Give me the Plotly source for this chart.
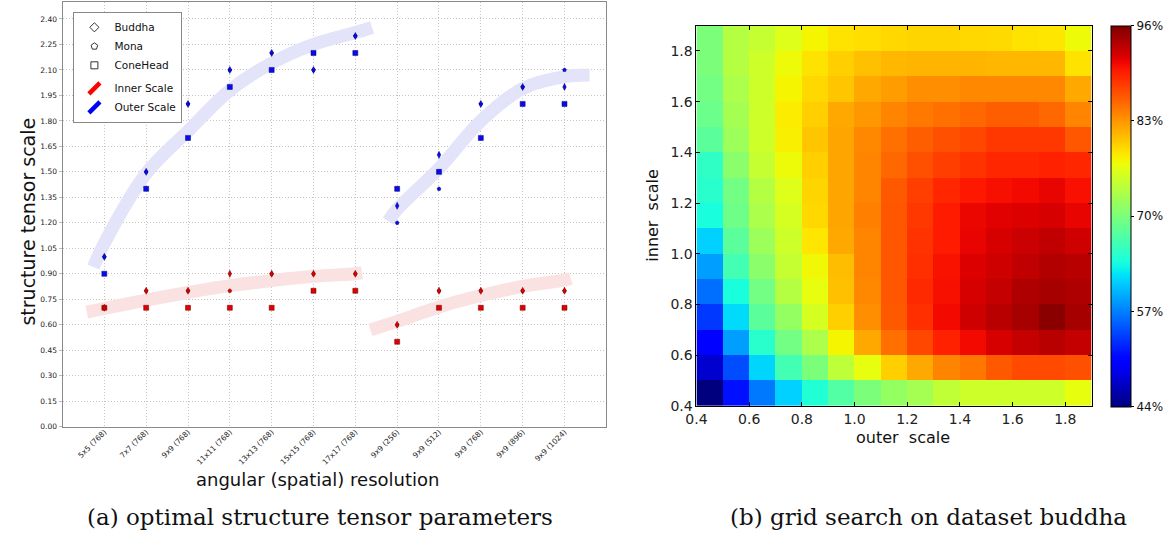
import numpy as np
import plotly.graph_objects as go

W, H = 1164, 549

# ---------------- data: panel (a) ----------------
categories = ["5x5 (768)", "7x7 (768)", "9x9 (768)", "11x11 (768)", "13x13 (768)",
              "15x15 (768)", "17x17 (768)", "9x9 (256)", "9x9 (512)", "9x9 (768)",
              "9x9 (896)", "9x9 (1024)"]
cat_pos = list(range(len(categories)))

buddha_outer = [1.0, 1.5, 1.9, 2.1, 2.2, 2.1, 2.3, 1.3, 1.6, 1.9, 2.0, 2.0]
mona_outer = [1.0, 1.5, 1.9, 2.1, 2.2, 2.1, 2.3, 1.2, 1.4, 1.9, 2.0, 2.1]
conehead_outer = [0.9, 1.4, 1.7, 2.0, 2.1, 2.2, 2.2, 1.4, 1.5, 1.7, 1.9, 1.9]

buddha_inner = [0.7, 0.8, 0.8, 0.9, 0.9, 0.9, 0.9, 0.6, 0.8, 0.8, 0.8, 0.8]
mona_inner = [0.7, 0.8, 0.8, 0.8, 0.9, 0.9, 0.9, 0.6, 0.8, 0.8, 0.8, 0.8]
conehead_inner = [0.7, 0.7, 0.7, 0.7, 0.7, 0.8, 0.8, 0.5, 0.7, 0.7, 0.7, 0.7]

# hand-drawn trend bands (position on category axis, scale value)
outer_band_a_pos = [-0.26, 0.0, 1.0, 2.0, 3.0, 4.0, 5.0, 6.0, 6.4]
outer_band_a_val = [0.94, 1.08, 1.49, 1.74, 1.98, 2.14, 2.25, 2.32, 2.35]
outer_band_b_pos = [6.79, 7.0, 8.0, 9.0, 10.0, 11.0, 11.6]
outer_band_b_val = [1.21, 1.28, 1.52, 1.80, 1.99, 2.06, 2.07]
inner_band_a_pos = [-0.42, 1.0, 2.0, 3.0, 4.0, 5.0, 6.0, 6.16]
inner_band_a_val = [0.675, 0.745, 0.79, 0.83, 0.86, 0.885, 0.90, 0.905]
inner_band_b_pos = [6.36, 7.0, 8.0, 9.0, 10.0, 11.0, 11.15]
inner_band_b_val = [0.57, 0.62, 0.705, 0.772, 0.826, 0.863, 0.873]

# ---------------- data: panel (b) ----------------
outer_scale = [0.45, 0.55, 0.65, 0.75, 0.85, 0.95, 1.05, 1.15, 1.25, 1.35, 1.45, 1.55, 1.65, 1.75, 1.85]
inner_scale = [0.45, 0.55, 0.65, 0.75, 0.85, 0.95, 1.05, 1.15, 1.25, 1.35, 1.45, 1.55, 1.65, 1.75, 1.85]
# accuracy in %, rows = inner scale (bottom to top), cols = outer scale
accuracy = [
    [44.0, 51.3, 56.7, 61.2, 64.3, 67.4, 70.0, 71.6, 72.6, 74.4, 75.2, 75.2, 75.2, 75.2, 76.8],
    [47.6, 54.4, 61.4, 66.4, 70.0, 74.2, 76.8, 79.9, 82.0, 84.0, 84.8, 86.4, 87.2, 87.2, 86.9],
    [50.2, 58.6, 64.8, 69.5, 73.1, 77.8, 82.0, 85.1, 87.4, 89.5, 90.8, 92.1, 92.9, 93.4, 92.9],
    [53.4, 61.7, 67.9, 71.6, 75.7, 79.9, 83.5, 86.4, 88.7, 90.8, 92.4, 93.4, 94.2, 95.5, 94.2],
    [56.2, 63.8, 69.5, 73.6, 76.8, 80.7, 83.8, 86.6, 89.0, 90.5, 92.1, 92.9, 93.9, 94.2, 93.9],
    [58.6, 66.4, 71.0, 74.7, 77.5, 80.9, 84.0, 86.6, 88.7, 90.3, 91.8, 92.4, 93.1, 93.7, 93.4],
    [61.2, 67.9, 72.1, 75.2, 78.6, 82.0, 84.0, 86.6, 88.5, 89.8, 91.3, 92.1, 92.6, 93.1, 92.4],
    [63.8, 69.2, 73.1, 75.7, 79.4, 82.2, 84.3, 86.6, 88.2, 89.8, 91.1, 91.6, 91.8, 92.1, 91.3],
    [64.8, 69.5, 73.6, 76.2, 79.6, 82.2, 84.0, 86.4, 87.9, 89.2, 90.0, 90.5, 90.8, 91.3, 90.4],
    [65.3, 71.0, 74.7, 77.3, 79.9, 82.2, 84.0, 85.6, 86.9, 87.9, 88.5, 89.2, 89.2, 89.5, 89.2],
    [67.9, 72.1, 75.2, 78.1, 80.4, 82.2, 83.8, 85.1, 86.1, 86.9, 87.4, 88.2, 88.2, 88.2, 86.6],
    [69.0, 72.6, 75.2, 78.3, 79.9, 82.0, 83.0, 84.0, 84.6, 85.1, 85.6, 86.1, 86.1, 85.6, 84.0],
    [69.5, 73.1, 75.2, 77.8, 79.4, 80.4, 82.0, 82.7, 83.5, 83.5, 83.8, 83.8, 83.8, 83.8, 82.0],
    [70.0, 73.6, 75.2, 77.3, 78.8, 79.9, 80.7, 81.2, 81.4, 81.4, 81.4, 81.2, 81.2, 81.2, 78.8],
    [70.0, 73.6, 74.7, 76.2, 77.8, 78.8, 79.1, 79.4, 79.6, 79.6, 79.4, 79.3, 78.8, 78.6, 77.3],
]
cbar_ticks = [44, 57, 70, 83, 96]
axis_ticks_b = [0.4, 0.6, 0.8, 1.0, 1.2, 1.4, 1.6, 1.8]


# ---------------- styling helpers ----------------
def px_x(p):
    return p / W


def px_y(p):
    return 1 - p / H


def jet_scale(n=61):
    out = []
    for t in np.linspace(0, 1, n):
        r = np.interp(t, [0, 0.35, 0.66, 0.89, 1], [0, 0, 1, 1, 0.5])
        g = np.interp(t, [0, 0.125, 0.375, 0.64, 0.91, 1], [0, 0, 1, 1, 0, 0])
        b = np.interp(t, [0, 0.11, 0.34, 0.65, 1], [0.5, 1, 1, 0, 0])
        out.append([float(t), f"rgb({int(r*255)},{int(g*255)},{int(b*255)})"])
    return out


FONT = "DejaVu Sans"
BLUE = "#0a0af0"
BLUE_EDGE = "#00006e"
RED = "#e00000"
RED_EDGE = "#6e0000"
BLUE_BAND = "#e3e3fa"
RED_BAND = "#fbe2e2"

fig = go.Figure()

# bands
for xs, ys, col in [(outer_band_a_pos, outer_band_a_val, BLUE_BAND),
                    (outer_band_b_pos, outer_band_b_val, BLUE_BAND),
                    (inner_band_a_pos, inner_band_a_val, RED_BAND),
                    (inner_band_b_pos, inner_band_b_val, RED_BAND)]:
    fig.add_trace(go.Scatter(x=xs, y=ys, mode="lines",
                             line=dict(color=col, width=13, shape="spline", smoothing=1.0),
                             showlegend=False, hoverinfo="skip", xaxis="x", yaxis="y"))

# markers
series = [
    (conehead_outer, "square", 5, BLUE, BLUE_EDGE),
    (conehead_inner, "square", 5, RED, RED_EDGE),
    (mona_outer, "pentagon", 4, BLUE, BLUE_EDGE),
    (mona_inner, "pentagon", 4, RED, RED_EDGE),
    (buddha_outer, "diamond-tall", 5, BLUE, BLUE_EDGE),
    (buddha_inner, "diamond-tall", 5, RED, RED_EDGE),
]
for vals, sym, size, col, edge in series:
    fig.add_trace(go.Scatter(x=cat_pos, y=vals, mode="markers",
                             marker=dict(symbol=sym, size=size, color=col,
                                         line=dict(color=edge, width=0.5)),
                             showlegend=False, xaxis="x", yaxis="y"))

# legend-only entries
for name, sym in [("Buddha", "diamond-open"), ("Mona", "pentagon-open"), ("ConeHead", "square-open")]:
    fig.add_trace(go.Scatter(x=[None], y=[None], mode="markers", name=name,
                             legendgroup="data", marker=dict(symbol=sym, size=7, color="#333",
                                                             line=dict(width=1, color="#333")),
                             xaxis="x", yaxis="y"))
for name, col in [("Inner Scale", "#ff0000"), ("Outer Scale", "#0000ff")]:
    fig.add_trace(go.Scatter(x=[None], y=[None], mode="markers", name=name,
                             legendgroup="scale",
                             marker=dict(symbol="line-ne", size=11, color=col,
                                         line=dict(width=4.5, color=col)),
                             xaxis="x", yaxis="y"))

# heatmap
fig.add_trace(go.Heatmap(
    x=outer_scale, y=inner_scale, z=accuracy, zmin=44, zmax=96,
    colorscale=jet_scale(), xaxis="x2", yaxis="y2", showscale=True,
    colorbar=dict(x=px_x(1110), xanchor="left", xpad=0,
                  y=px_y(26), yanchor="top", ypad=0,
                  len=(413 - 26) / H, lenmode="fraction",
                  thickness=20, outlinecolor="#000", outlinewidth=1,
                  tickvals=cbar_ticks, ticktext=[f"{v}%" for v in cbar_ticks],
                  ticks="outside", ticklen=3, tickcolor="#000",
                  tickfont=dict(family=FONT, size=12, color="#111")),
))

grid_common = dict(showgrid=True, gridcolor="#c4c4c4", griddash="1px,2px", gridwidth=1,
                   zeroline=False, showline=True, linecolor="#8a8a8a", linewidth=1, mirror=True)

fig.update_layout(
    width=W, height=H, margin=dict(l=0, r=0, t=0, b=0),
    paper_bgcolor="white", plot_bgcolor="white",
    font=dict(family=FONT, color="#111"),
    showlegend=True,
    legend=dict(x=px_x(63), y=px_y(12), xanchor="left", yanchor="top",
                bgcolor="white", bordercolor="#888", borderwidth=1,
                font=dict(family=FONT, size=10.5, color="#111"),
                traceorder="grouped", tracegroupgap=4, itemwidth=30),
    xaxis=dict(domain=[px_x(52), px_x(601)], range=[-1, 12], anchor="y",
               tickvals=cat_pos, ticktext=categories, tickangle=-45,
               tickfont=dict(family=FONT, size=7.5, color="#222"),
               ticks="", ticklabelstandoff=-3, **grid_common),
    yaxis=dict(domain=[px_y(433), px_y(2)], range=[0, 2.5], anchor="x",
               tick0=0, dtick=0.15, tickformat=".2f",
               tickfont=dict(family=FONT, size=7.5, color="#222"),
               ticks="outside", ticklen=3, tickcolor="#bbb", **grid_common),
    xaxis2=dict(domain=[px_x(692), px_x(1091)], range=[0.4, 1.9], anchor="y2",
                tickvals=axis_ticks_b, tickformat=".1f", showgrid=False, zeroline=False,
                showline=True, linecolor="#000", linewidth=1, mirror="ticks",
                ticks="inside", ticklen=4, tickcolor="#000",
                tickfont=dict(family=FONT, size=14, color="#222")),
    yaxis2=dict(domain=[px_y(412), px_y(26)], range=[0.4, 1.9], anchor="x2",
                tickvals=axis_ticks_b, tickformat=".1f", showgrid=False, zeroline=False,
                showline=True, linecolor="#000", linewidth=1, mirror="ticks",
                ticks="inside", ticklen=4, tickcolor="#000",
                tickfont=dict(family=FONT, size=14, color="#222")),
)

ann = [
    dict(text="structure tensor scale", x=px_x(17), y=px_y(225), textangle=-90,
         font=dict(family=FONT, size=19, color="#111")),
    dict(text="angular (spatial) resolution", x=px_x(309), y=px_y(487),
         font=dict(family=FONT, size=18, color="#111")),
    dict(text="(a) optimal structure tensor parameters", x=px_x(312), y=px_y(525),
         font=dict(family="DejaVu Serif", size=23, color="#111")),
    dict(text="(b) grid search on dataset buddha", x=px_x(926), y=px_y(525),
         font=dict(family="DejaVu Serif", size=23, color="#111")),
    dict(text="outer  scale", x=px_x(901), y=px_y(444),
         font=dict(family=FONT, size=16, color="#111")),
    dict(text="inner  scale", x=px_x(648), y=px_y(218), textangle=-90,
         font=dict(family=FONT, size=16, color="#111")),
]
for a in ann:
    a.update(xref="paper", yref="paper", showarrow=False, xanchor="center", yanchor="middle")
fig.update_layout(annotations=ann)

fig.write_html("out.html")
